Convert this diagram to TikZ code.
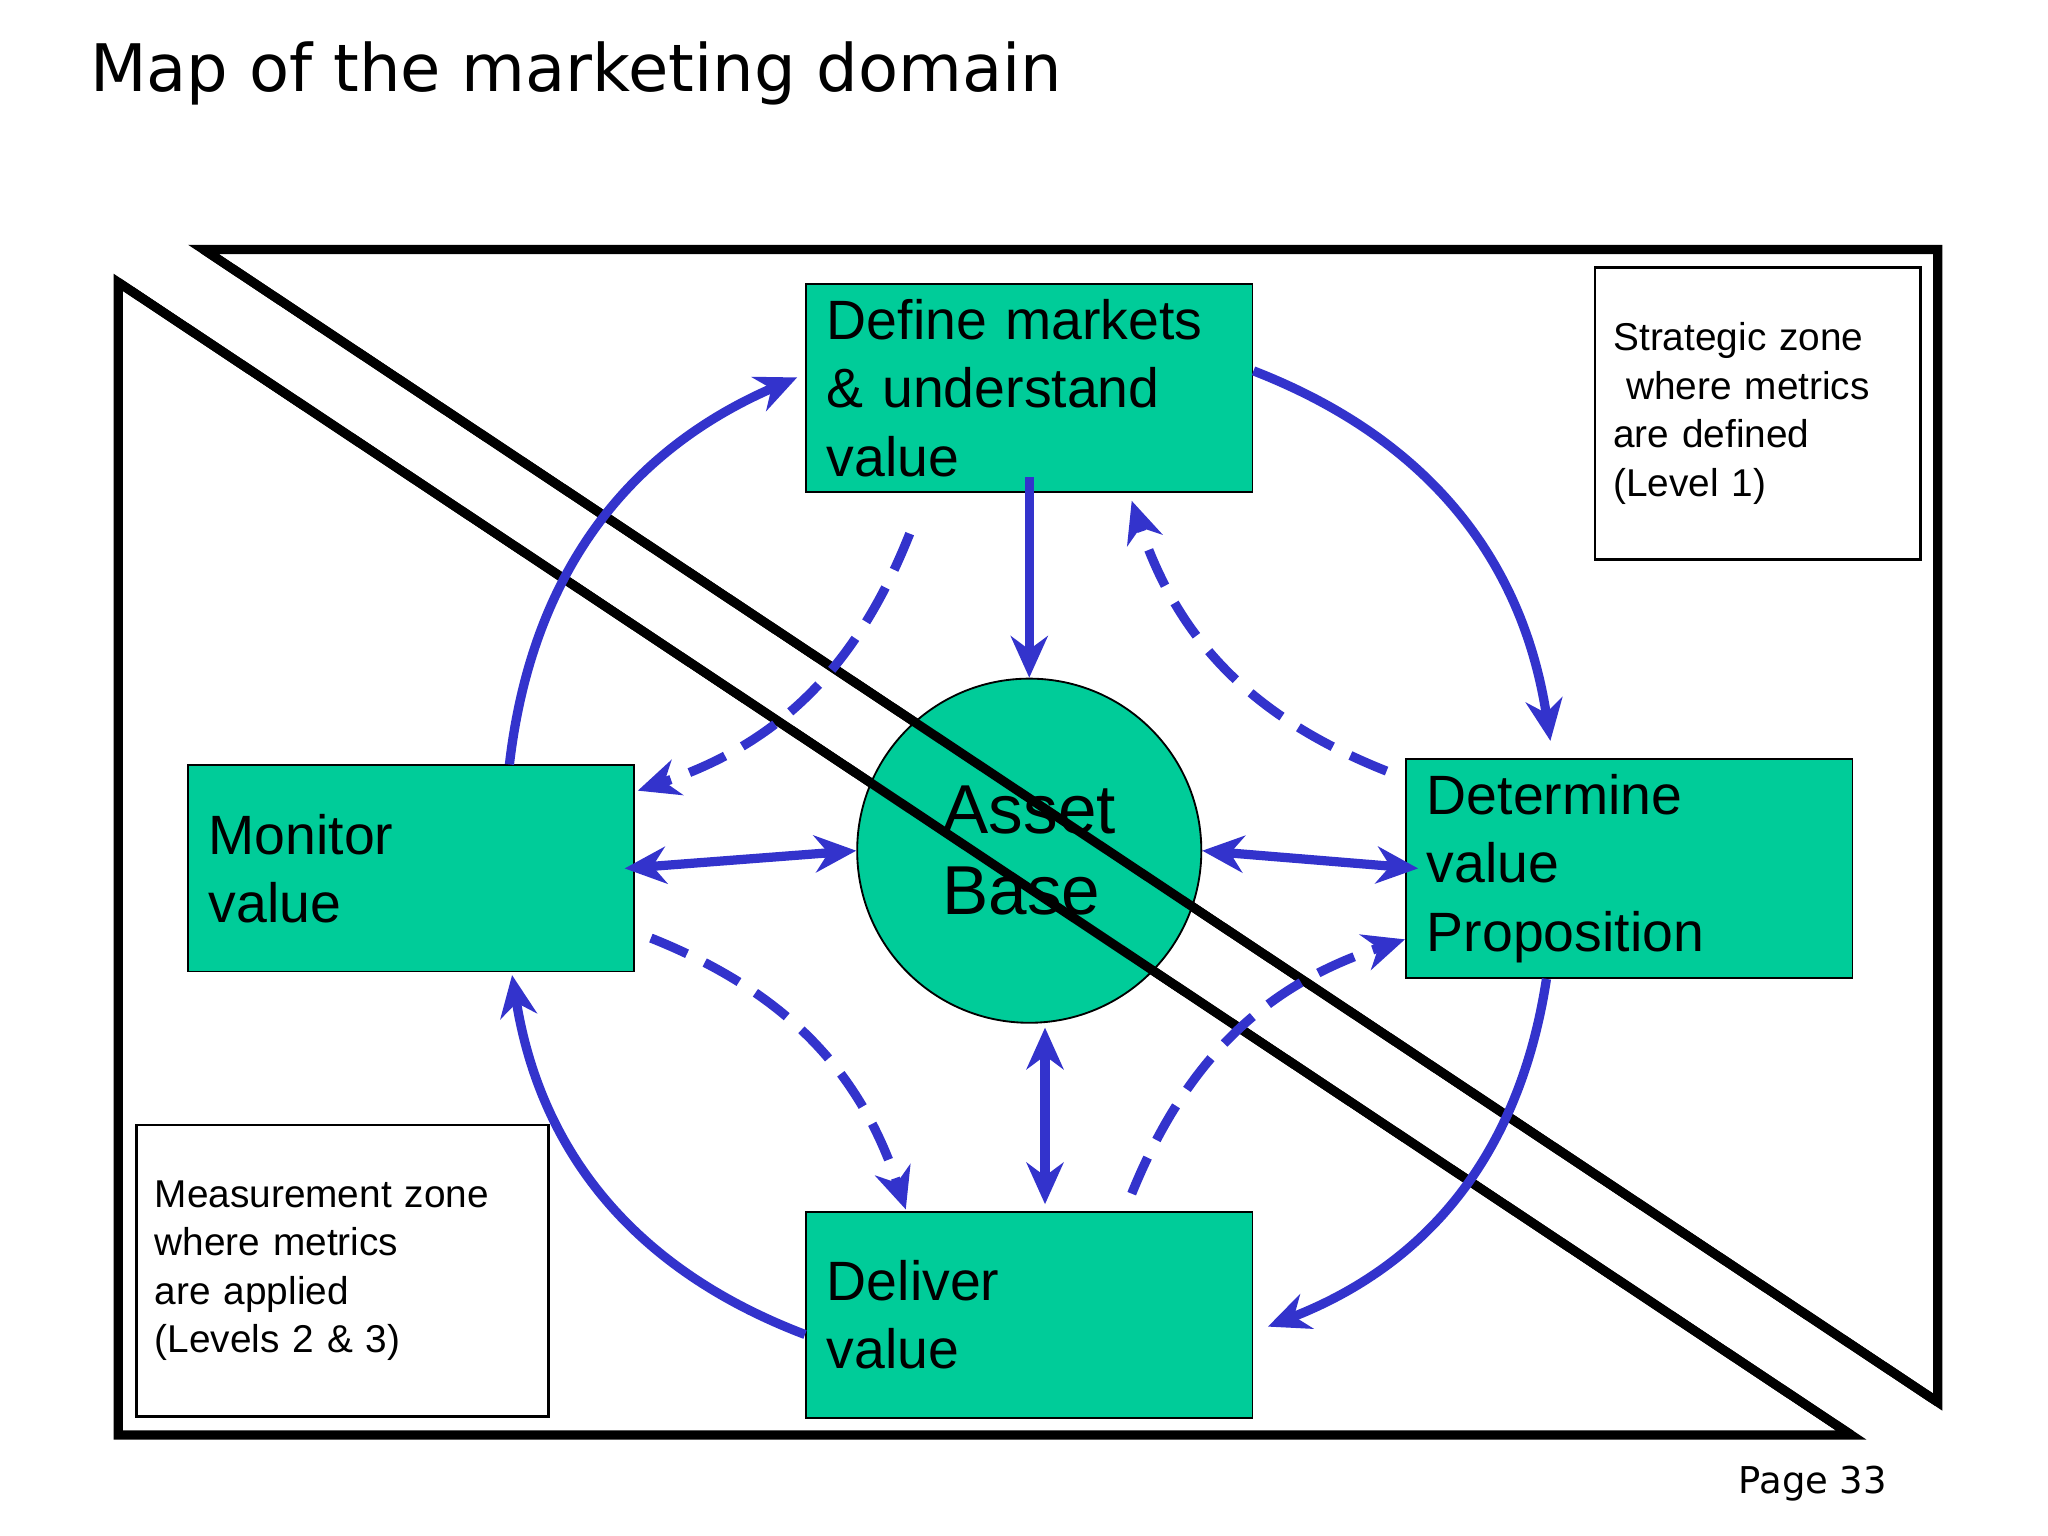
\documentclass[tikz,border=0pt]{standalone}
\usepackage{fontspec}
\setmainfont{Liberation Sans}
\newfontfamily\verd{DejaVu Sans}
\usetikzlibrary{arrows.meta}
\definecolor{boxgreen}{HTML}{00CC99}
\definecolor{arrblue}{HTML}{3333CC}
\tikzset{
  stage/.style={draw=black, fill=boxgreen, minimum width=3.4cm, minimum height=1.57cm,
    text width=3.08cm, inner xsep=0.16cm, align=left, font=\fontsize{12}{14.8}\selectfont},
  zone/.style={draw=black, line width=0.6pt, minimum width=2.48cm, minimum height=2.22cm,
    text width=2.2cm, align=left, font=\fontsize{8.4}{10.5}\selectfont},
  flow/.style={draw=arrblue, line width=2pt, -{Stealth[length=9pt,width=8pt]}},
  flow2/.style={flow, {Stealth[length=9pt,width=8pt]}-{Stealth[length=9pt,width=8pt]}},
  back/.style={flow, dash pattern=on 0.3cm off 0.15cm},
}
\begin{document}
\begin{tikzpicture}[x=0.01cm,y=-0.01cm]
				\useasboundingbox (0,0) rectangle (1560,1170);
				\node[anchor=base west, font=\verd\fontsize{14.2}{17}\selectfont, inner sep=0] (title) at (68,70) {Map of the marketing domain};
				\node[anchor=base east, font=\verd\fontsize{8}{10}\selectfont, inner sep=0] (page) at (1438,1138) {Page 33};
				\draw [line width=2pt] (90,215) -- (90,1093) -- (1410,1093) -- cycle;
				\draw [line width=2pt] (155,190) -- (1476,190) -- (1476,1068) -- cycle;
				\node[zone] (strat) at (1339,315) {Strategic zone\\ \ where metrics\\are defined\\(Level 1)};
				\node[zone, minimum width=3.14cm, text width=2.86cm] (meas) at (261,968) {Measurement zone\\where metrics\\are applied\\(Levels 2 \& 3)};
				\node[stage] (def) at (784,295.5) {Define markets \& understand value};
				\node[stage] (mon) at (313,661.5) {Monitor\\value};
				\node[stage] (det) at (1241,661.5) {Determine\\value\\Proposition};
				\node[stage] (del) at (784,1001.5) {Deliver\\value};
				\node[circle, draw=black, fill=boxgreen, minimum size=2.62cm, align=left,
				  font=\fontsize{15}{17.5}\selectfont] (ab) at (784,648) {Asset\\Base};
				\draw [line width=2pt] (90,215) -- (1410,1093);
				\draw [line width=2pt] (155,190) -- (1476,1068);
				% outer cycle
				\draw[flow] ([xshift=0.75cm]mon.north) to[bend left=30] ([xshift=-0.06cm,yshift=0.08cm]def.west);
				\draw[flow] ([yshift=0.13cm]def.east) to[bend left=30] ([xshift=-0.6cm,yshift=0.13cm]det.north);
				\draw[flow] ([xshift=-0.63cm]det.south) to[bend left=30] ([xshift=0.11cm,yshift=-0.09cm]del.east);
				\draw[flow] ([yshift=-0.15cm]del.west) to[bend left=30] ([xshift=0.77cm,yshift=-0.02cm]mon.south);
				% asset base links
				\draw[flow] ([yshift=0.12cm]def.south) -- (ab.north);
				\draw[flow2] ([xshift=0.12cm,yshift=-0.03cm]ab.south) -- ([xshift=0.12cm,yshift=0.05cm]del.north);
				\draw[flow2] ([xshift=-0.08cm]mon.east) -- (ab.west);
				\draw[flow2] (ab.east) -- ([xshift=0.1cm]det.west);
				% feedback
				\draw[back] ([xshift=-0.91cm,yshift=-0.31cm]def.south) to[bend left=25] ([xshift=0.02cm,yshift=-0.2cm]mon.north east);
				\draw[back] ([xshift=-0.14cm,yshift=-0.1cm]det.north west) to[bend left=25] ([xshift=0.78cm,yshift=-0.06cm]def.south);
				\draw[back] ([xshift=0.12cm,yshift=-0.53cm]mon.east) to[bend left=25] ([xshift=-0.94cm,yshift=0.01cm]del.north);
				\draw[back] ([xshift=0.78cm,yshift=0.13cm]del.north) to[bend left=25] ([yshift=-0.54cm]det.west);
			\end{tikzpicture}
\end{document}
